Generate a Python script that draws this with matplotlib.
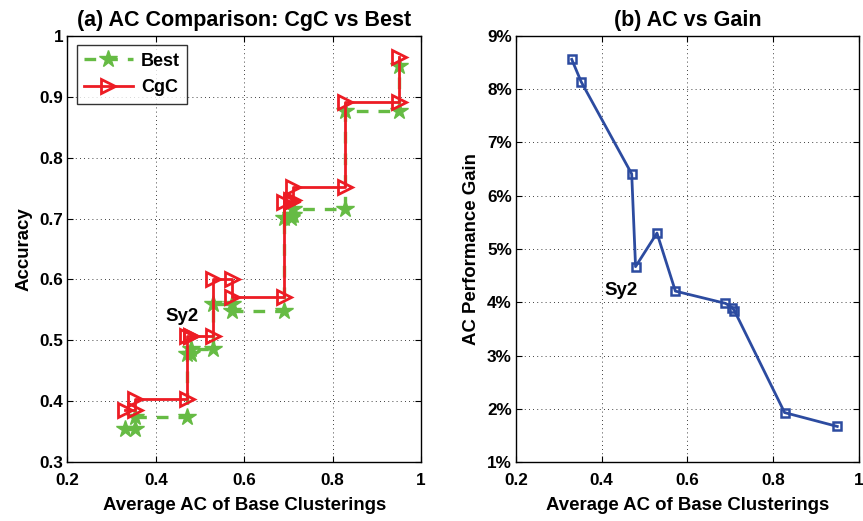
import numpy as np
import matplotlib
matplotlib.use("Agg")
import matplotlib.pyplot as plt
from matplotlib.ticker import FuncFormatter

plt.rcParams['font.family'] = ['Liberation Sans', 'DejaVu Sans']
plt.rcParams['font.weight'] = 'bold'

# Data
avg_ac = [0.330, 0.352, 0.470, 0.479, 0.529, 0.572, 0.689, 0.705, 0.710, 0.827, 0.950]
best_acc = [0.355, 0.374, 0.478, 0.486, 0.560, 0.549, 0.701, 0.706, 0.716, 0.876, 0.950]
cgc_acc = [0.386, 0.404, 0.507, 0.507, 0.601, 0.572, 0.728, 0.731, 0.752, 0.892, 0.965]
gain_pct = [8.56, 8.14, 6.41, 4.67, 5.30, 4.21, 3.98, 3.90, 3.84, 1.93, 1.67]

x_ticks = [0.2, 0.4, 0.6, 0.8, 1.0]
x_tick_labels = ['0.2', '0.4', '0.6', '0.8', '1']
y1_ticks = [0.3, 0.4, 0.5, 0.6, 0.7, 0.8, 0.9, 1.0]
y1_tick_labels = ['0.3', '0.4', '0.5', '0.6', '0.7', '0.8', '0.9', '1']
y2_ticks = [1, 2, 3, 4, 5, 6, 7, 8, 9]

RED = '#ED1C24'
GREEN = '#66BB44'
BLUE = '#2C4BA0'


def stair_vertices(x, y):
    x = np.asarray(x)
    y = np.asarray(y)
    xx = np.empty(2 * len(x) - 1)
    yy = np.empty(2 * len(x) - 1)
    xx[0::2] = x
    xx[1::2] = x[1:]
    yy[0::2] = y
    yy[1::2] = y[:-1]
    return xx, yy


fig = plt.figure(figsize=(8.63, 5.21), dpi=100)
ax1 = fig.add_axes([0.078, 0.113, 0.410, 0.818])
ax2 = fig.add_axes([0.598, 0.113, 0.397, 0.818])

TICK_FS = 12.3
LABEL_FS = 13.4
TITLE_FS = 15.5


def style(ax):
    ax.grid(True, color='k', linestyle=(0, (1, 4)), linewidth=0.6)
    ax.tick_params(direction='in', top=True, right=True, length=4, width=0.8,
                   labelsize=TICK_FS)
    ax.tick_params(axis='x', pad=8)
    ax.tick_params(axis='y', pad=3)
    for sp in ax.spines.values():
        sp.set_linewidth(1.0)
    for lab in ax.get_xticklabels() + ax.get_yticklabels():
        lab.set_fontweight('bold')


bx, by = stair_vertices(avg_ac, best_acc)
cx, cy = stair_vertices(avg_ac, cgc_acc)
ax1.plot(bx, by, linestyle=(0, (3.5, 3)), color=GREEN, lw=2.4, marker='*',
         ms=13, mfc=GREEN, mec=GREEN, label='Best')
ax1.plot(cx, cy, linestyle='-', color=RED, lw=2.0, marker='>', ms=9.5,
         mfc='none', mec=RED, mew=2.0, label='CgC')
ax1.set_xlim(0.2, 1.0)
ax1.set_ylim(0.3, 1.0)
ax1.set_xticks(x_ticks)
ax1.set_xticklabels(x_tick_labels)
ax1.set_yticks(y1_ticks)
ax1.set_yticklabels(y1_tick_labels)
ax1.set_title('(a) AC Comparison: CgC vs Best', fontsize=TITLE_FS, fontweight='bold', pad=7)
ax1.set_xlabel('Average AC of Base Clusterings', fontsize=LABEL_FS, fontweight='bold', labelpad=6)
ax1.set_ylabel('Accuracy', fontsize=LABEL_FS, fontweight='bold', labelpad=5)
ax1.text(0.46, 0.540, 'Sy2', fontsize=LABEL_FS, fontweight='bold', ha='center', va='center')
leg = ax1.legend(loc='upper left', fontsize=13, frameon=True, fancybox=False,
                 edgecolor='k', handlelength=2.7, borderpad=0.4, labelspacing=0.55,
                 handletextpad=0.45, borderaxespad=0.0,
                 bbox_to_anchor=(0.027, 0.978))
leg.get_frame().set_linewidth(1.0)
for t in leg.get_texts():
    t.set_fontweight('bold')
style(ax1)

ax2.plot(avg_ac, gain_pct, '-', color=BLUE, lw=2.0, marker='s', ms=6,
         mfc='none', mec=BLUE, mew=1.8)
ax2.set_xlim(0.2, 1.0)
ax2.set_ylim(1, 9)
ax2.set_xticks(x_ticks)
ax2.set_xticklabels(x_tick_labels)
ax2.set_yticks(y2_ticks)
ax2.yaxis.set_major_formatter(FuncFormatter(lambda v, p: '%d%%' % round(v)))
ax2.set_title('(b) AC vs Gain', fontsize=TITLE_FS, fontweight='bold', pad=7)
ax2.set_xlabel('Average AC of Base Clusterings', fontsize=LABEL_FS, fontweight='bold', labelpad=6)
ax2.set_ylabel('AC Performance Gain', fontsize=LABEL_FS, fontweight='bold', labelpad=5)
ax2.text(0.445, 4.23, 'Sy2', fontsize=LABEL_FS, fontweight='bold', ha='center', va='center')
style(ax2)

fig.savefig('out.png', dpi=100)
